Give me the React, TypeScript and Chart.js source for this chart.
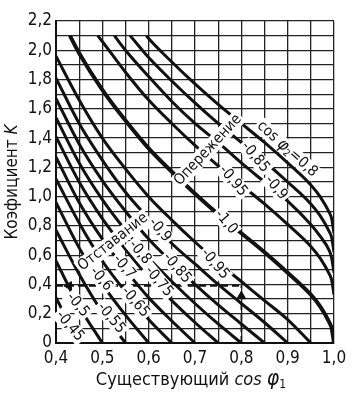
import React, { useEffect, useRef } from "react";
import { Chart, registerables } from "chart.js";
Chart.register(...registerables);

const FONT = '"DejaVu Sans Condensed", "Liberation Sans Narrow", "DejaVu Sans", sans-serif';

// axis tick labels
const xTickLabels = ["0,4", "0,5", "0,6", "0,7", "0,8", "0,9", "1,0"];
const yTickLabels = ["0", "0,2", "0,4", "0,6", "0,8", "1,0", "1,2", "1,4", "1,6", "1,8", "2,0", "2,2"];

// lagging curves (cos φ2 = …), K read at x = 0.40, 0.45, …
const lagX = [0.4, 0.45, 0.5, 0.55, 0.6, 0.65, 0.7, 0.75, 0.8, 0.85, 0.9, 0.95];
const lag045 = [0.31, 0];
const lag050 = [0.56, 0.25, 0];
const lag055 = [0.77, 0.47, 0.21, 0];
const lag060 = [0.96, 0.65, 0.4, 0.19, 0];
const lag065 = [1.12, 0.82, 0.56, 0.35, 0.16, 0];
const lag070 = [1.27, 0.96, 0.71, 0.5, 0.31, 0.15, 0];
const lag075 = [1.41, 1.1, 0.85, 0.64, 0.45, 0.29, 0.14, 0];
const lag080 = [1.54, 1.23, 0.98, 0.77, 0.58, 0.42, 0.27, 0.13, 0];
const lag085 = [1.67, 1.36, 1.11, 0.9, 0.71, 0.55, 0.4, 0.26, 0.13, 0];
const lag090 = [1.81, 1.5, 1.25, 1.03, 0.85, 0.68, 0.54, 0.4, 0.27, 0.14, 0];
const lag095 = [1.96, 1.66, 1.4, 1.19, 1.0, 0.84, 0.69, 0.55, 0.42, 0.29, 0.16, 0];

// cos φ2 = 1.0 curve
const unityX = [0.43, 0.45, 0.5, 0.55, 0.6, 0.65, 0.7, 0.75, 0.8, 0.85, 0.9, 0.95, 0.97, 0.99, 0.995, 1.0];
const unityK = [2.1, 1.98, 1.73, 1.52, 1.33, 1.17, 1.02, 0.88, 0.75, 0.62, 0.48, 0.33, 0.25, 0.14, 0.1, 0];

// leading curves
const lead095X = [0.49, 0.5, 0.55, 0.6, 0.65, 0.7, 0.75, 0.8, 0.85, 0.9, 0.95, 0.97, 0.99, 0.995, 1.0];
const lead095K = [2.1, 2.06, 1.85, 1.66, 1.5, 1.35, 1.21, 1.08, 0.95, 0.81, 0.66, 0.58, 0.47, 0.43, 0.33];
const lead090X = [0.526, 0.55, 0.6, 0.65, 0.7, 0.75, 0.8, 0.85, 0.9, 0.95, 0.97, 0.99, 0.995, 1.0];
const lead090K = [2.1, 2.0, 1.82, 1.65, 1.5, 1.37, 1.23, 1.1, 0.97, 0.81, 0.73, 0.63, 0.58, 0.48];
const lead085X = [0.56, 0.6, 0.65, 0.7, 0.75, 0.8, 0.85, 0.9, 0.95, 0.97, 0.99, 0.995, 1.0];
const lead085K = [2.1, 1.95, 1.79, 1.64, 1.5, 1.37, 1.24, 1.1, 0.95, 0.87, 0.76, 0.72, 0.62];
const lead080X = [0.595, 0.6, 0.65, 0.7, 0.75, 0.8, 0.85, 0.9, 0.95, 0.97, 0.99, 0.995, 1.0];
const lead080K = [2.1, 2.08, 1.92, 1.77, 1.63, 1.5, 1.37, 1.23, 1.08, 1.0, 0.89, 0.85, 0.75];

// worked example (dashed)
const exampleCos = 0.8;
const exampleK = 0.39;

type Part = { t: string; f: string; dy?: number };
const lbl = (s: number, italic = false) => `${italic ? "italic " : ""}${s}px ${FONT}`;

// curve labels: anchor in data units, rotation in degrees
const curveLabels: { x: number; k: number; rot: number; parts: Part[] }[] = [
  { x: 0.728, k: 1.318, rot: -47, parts: [{ t: "Опережение", f: lbl(15) }] },
  {
    x: 0.899, k: 1.325, rot: 42,
    parts: [
      { t: "cos ", f: lbl(15) },
      { t: "φ", f: lbl(17, true) },
      { t: "2", f: lbl(10), dy: 4 },
      { t: "=0,8", f: lbl(15) },
    ],
  },
  { x: 0.83, k: 1.27, rot: 50, parts: [{ t: "-0,85", f: lbl(15) }] },
  { x: 0.875, k: 1.06, rot: 50, parts: [{ t: "-0,9", f: lbl(15) }] },
  { x: 0.782, k: 1.107, rot: 50, parts: [{ t: "-0,95", f: lbl(15) }] },
  { x: 0.767, k: 0.827, rot: 50, parts: [{ t: "-1,0", f: lbl(15) }] },
  { x: 0.523, k: 0.69, rot: -38, parts: [{ t: "Отставание", f: lbl(15) }] },
  { x: 0.624, k: 0.772, rot: 50, parts: [{ t: "-0,9", f: lbl(15) }] },
  { x: 0.743, k: 0.54, rot: 50, parts: [{ t: "-0,95", f: lbl(15) }] },
  { x: 0.661, k: 0.512, rot: 50, parts: [{ t: "-0,85", f: lbl(15) }] },
  { x: 0.581, k: 0.62, rot: 50, parts: [{ t: "-0,8", f: lbl(15) }] },
  { x: 0.622, k: 0.42, rot: 50, parts: [{ t: "-0,75", f: lbl(15) }] },
  { x: 0.547, k: 0.52, rot: 50, parts: [{ t: "-0,7", f: lbl(15) }] },
  { x: 0.571, k: 0.28, rot: 50, parts: [{ t: "-0,65", f: lbl(15) }] },
  { x: 0.497, k: 0.437, rot: 50, parts: [{ t: "-0,6", f: lbl(15) }] },
  { x: 0.519, k: 0.17, rot: 50, parts: [{ t: "-0,55", f: lbl(15) }] },
  { x: 0.447, k: 0.26, rot: 50, parts: [{ t: "-0,5", f: lbl(15) }] },
  { x: 0.43, k: 0.116, rot: 50, parts: [{ t: "-0,45", f: lbl(15) }] },
];

function drawRich(ctx: CanvasRenderingContext2D, parts: Part[], cx: number, cy: number, rot: number, bg: boolean) {
  ctx.save();
  ctx.translate(cx, cy);
  ctx.rotate((rot * Math.PI) / 180);
  let w = 0;
  const ws: number[] = [];
  for (const p of parts) {
    ctx.font = p.f;
    const m = ctx.measureText(p.t).width;
    ws.push(m);
    w += m;
  }
  if (bg) {
    ctx.fillStyle = "#fff";
    ctx.fillRect(-w / 2 - 2, -8, w + 4, 16);
  }
  ctx.fillStyle = "#111";
  ctx.textBaseline = "middle";
  ctx.textAlign = "left";
  let xx = -w / 2;
  parts.forEach((p, i) => {
    ctx.font = p.f;
    ctx.fillText(p.t, xx, p.dy || 0);
    xx += ws[i];
  });
  ctx.restore();
}

const labelPlugin = {
  id: "curveLabels",
  afterDatasetsDraw(chart: any) {
    const { ctx, scales } = chart;
    for (const l of curveLabels) {
      drawRich(ctx, l.parts, scales.x.getPixelForValue(l.x), scales.y.getPixelForValue(l.k), l.rot, true);
    }
  },
  afterDraw(chart: any) {
    const { ctx, chartArea } = chart;
    const cx = (chartArea.left + chartArea.right) / 2 - 4;
    drawRich(
      ctx,
      [
        { t: "Существующий ", f: lbl(18) },
        { t: "cos ", f: lbl(18, true) },
        { t: "φ", f: lbl(21, true) },
        { t: "1", f: lbl(12), dy: 5 },
      ],
      cx, 380, 0, false
    );
    drawRich(
      ctx,
      [
        { t: "Коэфициент ", f: lbl(17) },
        { t: "K", f: lbl(17, true) },
      ],
      13, (chartArea.top + chartArea.bottom) / 2, -90, false
    );
  },
};

const pts = (xs: number[], ks: number[]) => ks.map((k, i) => ({ x: xs[i], y: k }));

export default function App() {
  const ref = useRef<HTMLCanvasElement>(null);
  useEffect(() => {
    const curve = (xs: number[], ks: number[], w = 3) => ({
      data: pts(xs, ks),
      borderColor: "#111",
      borderWidth: w,
      pointRadius: 0,
      fill: false,
      cubicInterpolationMode: "monotone" as const,
    });
    const lagging = [lag045, lag050, lag055, lag060, lag065, lag070, lag075, lag080, lag085, lag090, lag095];
    const datasets: any[] = [
      ...lagging.map((ks) => curve(lagX, ks)),
      curve(unityX, unityK, 4),
      curve(lead095X, lead095K),
      curve(lead090X, lead090K),
      curve(lead085X, lead085K),
      curve(lead080X, lead080K),
      {
        data: [{ x: 0.4, y: exampleK }, { x: exampleCos, y: exampleK }],
        borderColor: "#111", borderWidth: 1.6, borderDash: [7, 4], pointRadius: 0,
      },
      {
        data: [{ x: exampleCos, y: 0 }, { x: exampleCos, y: exampleK }],
        borderColor: "#111", borderWidth: 1.6, borderDash: [7, 4], pointRadius: 0,
      },
      {
        data: [{ x: 0.428, y: exampleK }],
        showLine: false, pointStyle: "triangle", pointRadius: 5, rotation: 270,
        backgroundColor: "#111", borderColor: "#111",
      },
      {
        data: [{ x: exampleCos, y: exampleK - 0.07 }],
        showLine: false, pointStyle: "triangle", pointRadius: 5, rotation: 0,
        backgroundColor: "#111", borderColor: "#111",
      },
    ];
    const tickFont = { family: FONT, size: 17 };
    const chart = new Chart(ref.current!, {
      type: "line",
      data: { datasets },
      plugins: [labelPlugin],
      options: {
        responsive: false,
        animation: false,
        devicePixelRatio: 1,
        layout: { padding: { left: 0, top: 21, right: 24, bottom: 0 } },
        plugins: { legend: { display: false }, tooltip: { enabled: false } },
        scales: {
          x: {
            type: "linear",
            min: 0.4,
            max: 1.0,
            ticks: {
              stepSize: 0.05,
              autoSkip: false,
              maxRotation: 0,
              padding: 5,
              color: "#111",
              font: tickFont,
              callback: (v: any) => {
                const h = Math.round(v * 100);
                if (h % 10 !== 0) return "";
                return xTickLabels[Math.round((h - 40) / 10)] ?? "";
              },
            },
            grid: { color: "#222", lineWidth: 1.3, drawTicks: false },
            border: { color: "#111", width: 2 },
            afterFit: (s: any) => { s.height = 57; },
          },
          y: {
            min: 0,
            max: 2.2,
            ticks: {
              stepSize: 0.1,
              autoSkip: false,
              padding: 4,
              color: "#111",
              font: tickFont,
              callback: (v: any) => {
                const t = Math.round(v * 10);
                if (t % 2 !== 0) return "";
                return yTickLabels[t / 2] ?? "";
              },
            },
            grid: { color: "#222", lineWidth: 1.3, drawTicks: false },
            border: { color: "#111", width: 2 },
            afterFit: (s: any) => { s.width = 56; },
          },
        },
      } as any,
    });
    return () => chart.destroy();
  }, []);
  return (
    <div style={{ position: "fixed", left: 0, top: 0, width: 358, height: 400, background: "#fff" }}>
      <canvas ref={ref} width={358} height={400} style={{ width: 358, height: 400, display: "block" }} />
    </div>
  );
}
